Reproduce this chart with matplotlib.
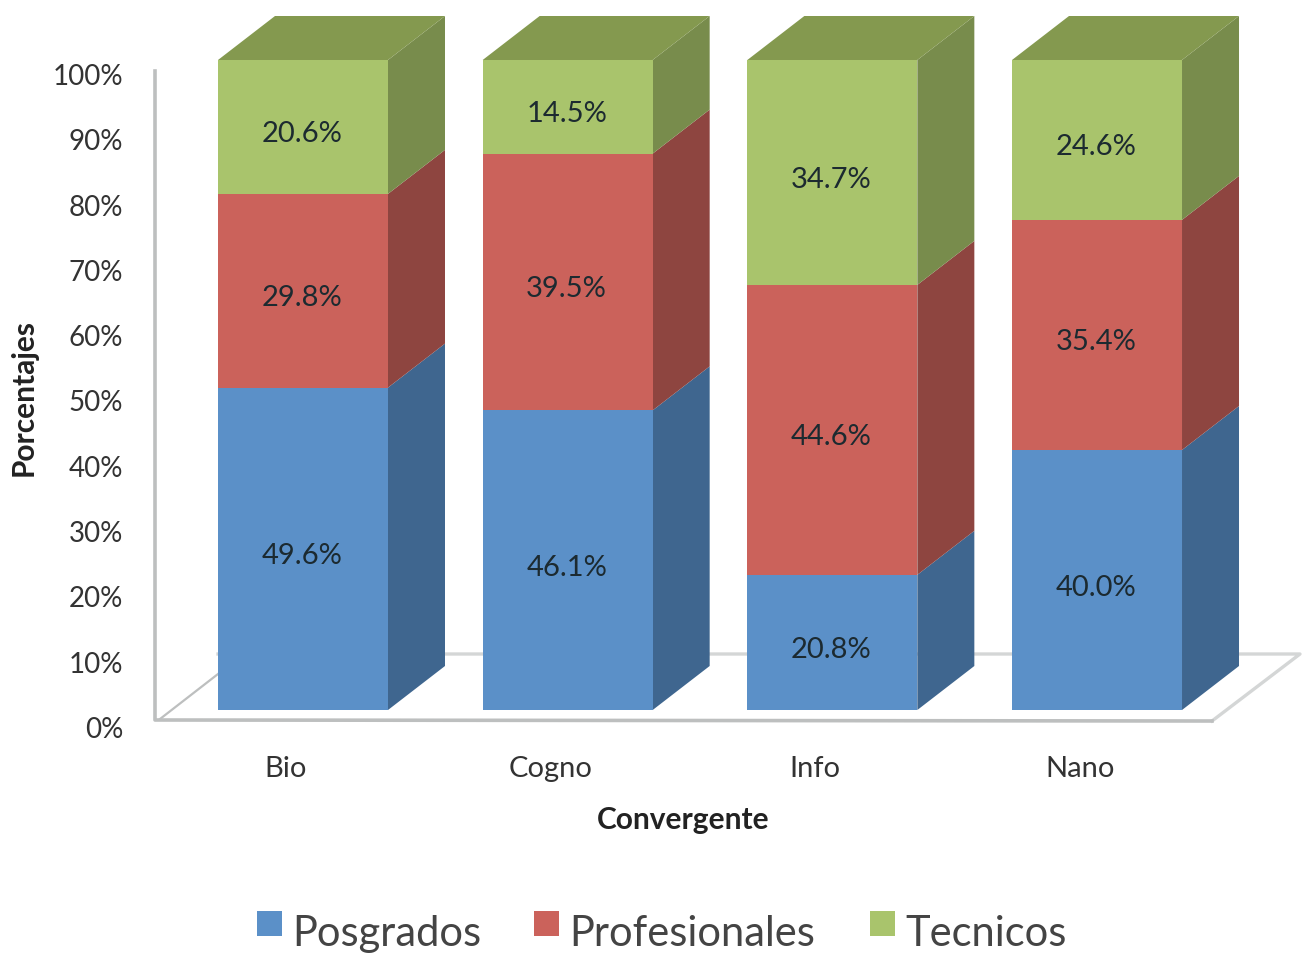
import matplotlib
matplotlib.use("Agg")
import matplotlib.pyplot as plt
from matplotlib.patches import Polygon, Rectangle

categories = ["Bio", "Cogno", "Info", "Nano"]
series_names = ["Posgrados", "Profesionales", "Tecnicos"]
posgrados = [49.6, 46.1, 20.8, 40.0]
profesionales = [29.8, 39.5, 44.6, 35.4]
tecnicos = [20.6, 14.4, 34.6, 24.6]
tecnicos_labels = ["20.6%", "14.5%", "34.7%", "24.6%"]
y_ticks = [0, 10, 20, 30, 40, 50, 60, 70, 80, 90, 100]

front = ["#5B90C8", "#CB625B", "#A9C46C"]
side = ["#3F668F", "#8E4540", "#788C4C"]
top_col = "#84994F"

plt.rcParams['font.family'] = ['Lato', 'DejaVu Sans']
fig = plt.figure(figsize=(13.02, 9.54), dpi=100)
ax = fig.add_axes([0, 0, 1, 1])
ux = 264.67
uy = 6.5
ax.set_xlim(-303 / ux, (1302 - 303) / ux)
ax.set_ylim(-(954 - 711) / uy, 711 / uy)
ax.axis("off")

W = 170 / ux
DX = 57 / ux
DY = 44 / uy


def X(p):
    return (p - 303) / ux


def Y(p):
    return (711 - p) / uy


wall = "#BDBFBF"
floor = "#D4D6D6"
# wall + floor
ax.plot([X(155), X(155), X(1212)], [Y(72), Y(721), Y(722)], color=wall, lw=2.6, zorder=2)
ax.plot([X(1212), X(1300), X(218)], [Y(722), Y(655), Y(655)], color=floor, lw=2.4, zorder=1)
ax.plot([X(160), X(218)], [Y(720), Y(675)], color=wall, lw=1.6, zorder=1)

for i, cat in enumerate(categories):
    left = i - W / 2
    right = i + W / 2
    base = 0
    for name, (vals, f, s) in enumerate([(posgrados, front[0], side[0]), (profesionales, front[1], side[1]), (tecnicos, front[2], side[2])]):
        v = vals[i]
        ax.add_patch(Polygon([(right, base), (right + DX, base + DY), (right + DX, base + v + DY), (right, base + v)],
                             closed=True, fc=s, ec="none", zorder=3))
        ax.add_patch(Rectangle((left, base), W, v, fc=f, ec="none", zorder=4))
        label = tecnicos_labels[i] if name == 2 else f"{v:.1f}%"
        ax.text(i - 1 / ux, base + v / 2 - 1.0, label, ha="center", va="center",
                fontsize=21, color="#1c2a30", zorder=6)
        base += v
    ax.add_patch(Polygon([(left, base), (left + DX, base + DY), (right + DX, base + DY), (right, base)],
                         closed=True, fc=top_col, ec="none", zorder=3))
    ax.text(i - 17 / ux, Y(769), cat, ha="center", va="center", fontsize=21, color="#333333")

for t in y_ticks:
    ax.text(X(123), Y(730) + t * 653 / 100 / uy, f"{t}%", ha="right", va="center", fontsize=20, color="#333333")

ax.text(X(683), Y(820), "Convergente", ha="center", va="center", fontsize=21.5, fontweight="bold", color="#222222")
ax.text(X(24), Y(398), "Porcentajes", ha="center", va="center", rotation=90, fontsize=21.5, fontweight="bold", color="#222222")

for name, col, bx, tx in zip(series_names, front, [257, 534, 870], [292, 569, 905]):
    ax.add_patch(Rectangle((X(bx), Y(937)), 25 / ux, 25 / uy, fc=col, ec="none"))
    ax.text(X(tx), Y(934), name, ha="left", va="center", fontsize=30, color="#444444")

fig.savefig("out.png", dpi=100)
